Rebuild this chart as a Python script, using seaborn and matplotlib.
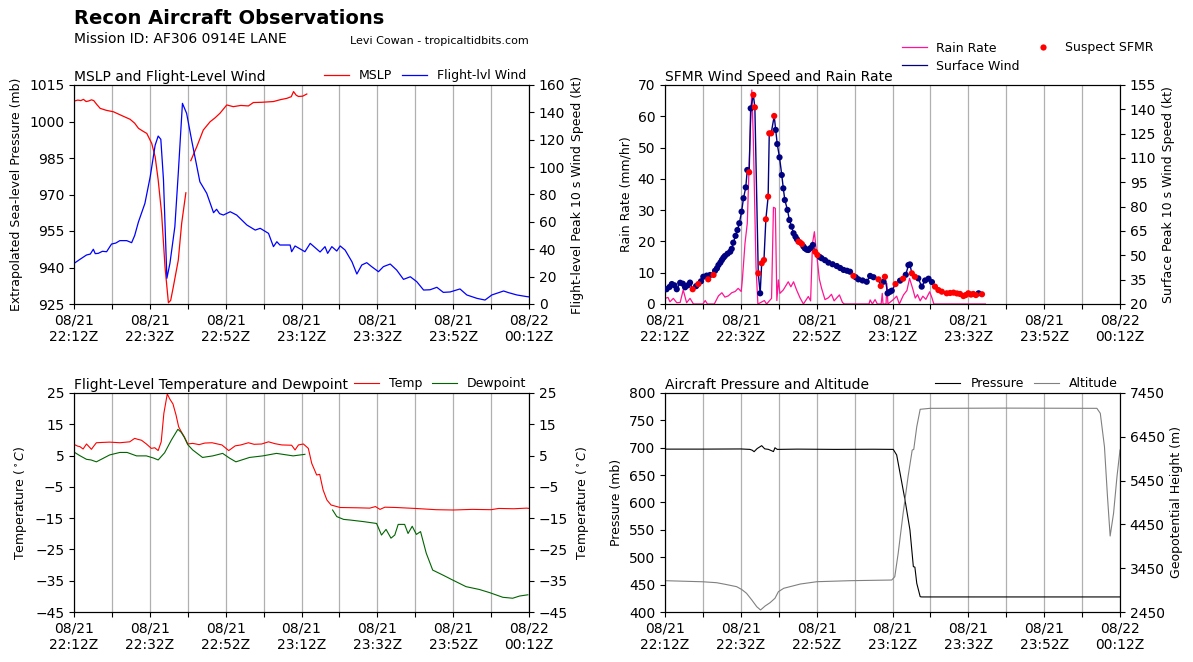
import matplotlib
matplotlib.use("Agg")
import matplotlib.pyplot as plt
import seaborn as sns
import numpy as np
from matplotlib.lines import Line2D

# ---------------- data (minutes after 22:12Z) ----------------
xtick_pos = [0, 10, 20, 30, 40, 50, 60, 70, 80, 90, 100, 110, 120]
xtick_labels = ["08/21\n22:12Z", "", "08/21\n22:32Z", "", "08/21\n22:52Z", "",
                "08/21\n23:12Z", "", "08/21\n23:32Z", "", "08/21\n23:52Z", "",
                "08/22\n00:12Z"]

mslp_t1 = [0.3, 1.0, 1.8, 2.5, 3.2, 3.8, 4.6, 5.2, 6.0, 6.9, 8.5, 10.4, 12.5, 14.8, 16.0,
           17.0, 18.2, 19.2, 20.5, 21.4, 22.2, 23.1, 24.0, 24.9, 25.5, 26.2, 27.5, 28.4, 29.5]
mslp_p1 = [1008.5, 1008.8, 1008.6, 1009.1, 1008.2, 1008.4, 1008.9, 1008.6, 1007.0, 1005.4,
           1004.6, 1004.0, 1002.5, 1000.9, 999.3, 997.2, 996.0, 995.1, 991.0, 985.5, 976.0,
           962.3, 940.3, 925.5, 926.5, 932.1, 943.0, 958.2, 970.7]
mslp_t2 = [30.8, 32.4, 34.1, 35.9, 37.2, 38.5, 40.3, 42.0, 44.0, 46.0, 47.3, 49.5, 52.6,
           54.5, 56.1, 57.3, 57.9, 58.6, 59.2, 60.3, 61.4]
mslp_p2 = [983.9, 989.7, 996.5, 999.9, 1001.5, 1003.4, 1006.8, 1006.1, 1006.6, 1006.4,
           1007.8, 1007.9, 1008.2, 1009.0, 1009.5, 1010.2, 1012.3, 1010.8, 1010.3, 1010.4, 1011.3]

fl_wind_t = [0.3, 1.5, 3.3, 4.3, 5.1, 5.6, 6.4, 7.5, 8.6, 9.9, 11.0, 12.1, 13.9, 15.2, 16.0,
             17.0, 18.7, 20.1, 21.4, 22.2, 22.9, 23.6, 24.5, 25.3, 26.6, 27.5, 28.6, 29.7,
             31.1, 33.2, 35.0, 36.8, 37.6, 38.4, 39.4, 41.2, 42.9, 45.6, 47.8, 49.1, 51.3,
             52.6, 53.5, 54.3, 57.0, 57.4, 58.3, 60.9, 62.3, 64.9, 66.2, 66.9, 68.0, 69.3,
             70.2, 71.5, 73.3, 74.6, 75.9, 77.2, 78.5, 80.3, 81.6, 83.4, 85.1, 86.9, 88.7,
             90.4, 92.2, 93.9, 95.7, 97.4, 99.2, 101.8, 103.6, 106.3, 108.4, 110.2, 113.3,
             114.6, 116.8, 119.4, 120.0]
fl_wind_kt = [30.2, 32.5, 35.8, 36.5, 40.0, 36.8, 37.0, 38.5, 38.2, 43.8, 44.5, 46.3, 46.3,
              44.8, 50.0, 60.0, 73.5, 93.0, 116.0, 122.7, 120.3, 90.6, 18.8, 29.7, 56.5,
              95.5, 146.6, 139.3, 118.6, 89.3, 80.9, 66.7, 69.2, 66.0, 65.0, 67.4, 65.0,
              57.7, 54.0, 55.3, 51.6, 41.9, 45.5, 43.1, 43.1, 38.2, 42.4, 38.2, 44.3, 38.0,
              41.9, 37.0, 41.9, 38.7, 42.4, 39.4, 30.9, 21.9, 28.5, 30.2, 27.3, 23.6, 27.3,
              29.2, 24.8, 18.0, 19.9, 16.3, 10.2, 10.4, 12.2, 8.5, 8.8, 11.0, 6.6, 4.1, 2.9,
              6.6, 9.5, 8.3, 6.6, 5.4, 5.2]

sfmr_t = [0.4, 1.2, 1.8, 2.5, 3.1, 4.0, 4.7, 5.3, 6.0, 6.6,
          7.3, 8.2, 8.8, 9.5, 10.1, 11.0, 11.4, 11.9, 12.8, 13.2,
          13.7, 14.1, 14.6, 15.0, 15.4, 15.8, 16.5, 17.2, 17.6, 18.0,
          18.6, 19.1, 19.6, 20.2, 20.7, 21.3, 21.7, 22.2, 22.6, 23.3,
          23.7, 24.6, 25.1, 25.5, 26.1, 26.6, 27.2, 27.5, 28.0, 28.8,
          29.2, 29.6, 30.2, 30.8, 31.2, 31.6, 32.3, 32.8, 33.4, 33.9,
          34.4, 34.8, 35.2, 35.6, 36.1, 36.5, 36.9, 37.4, 37.8, 38.4,
          39.0, 39.6, 40.2, 40.8, 41.3, 42.2, 43.1, 44.2, 45.3, 46.2,
          47.1, 48.0, 48.8, 49.7, 50.3, 51.0, 52.1, 53.2, 54.1, 55.0,
          56.3, 56.9, 57.6, 58.0, 58.7, 59.3, 59.8, 60.8, 62.0, 62.8,
          63.5, 64.2, 64.6, 65.1, 65.9, 66.8, 67.7, 68.6, 69.5, 70.4,
          71.2, 72.1, 73.0, 74.3, 75.2, 76.1, 77.0, 77.8, 78.7, 79.3,
          80.0, 80.7, 81.3, 82.0, 82.7, 83.6]
sfmr_kt = [29.1, 30.5, 32.3, 31.5, 29.1, 33.1, 32.5, 30.3, 31.5, 33.2,
           29.1, 31.0, 32.3, 34.0, 36.8, 37.5, 35.2, 37.9, 37.9, 40.5,
           42.0, 44.0, 45.5, 47.1, 48.5, 49.6, 51.0, 52.2, 54.0, 57.8,
           62.0, 65.6, 69.8, 76.9, 85.2, 91.9, 102.6, 101.2, 140.6, 148.9,
           141.2, 38.9, 26.6, 45.1, 47.1, 72.2, 86.2, 125.2, 125.2, 135.9,
           127.3, 118.6, 110.4, 99.5, 91.3, 84.1, 78.0, 71.8, 67.7, 63.6,
           61.5, 59.9, 58.4, 58.0, 57.0, 55.5, 54.3, 53.5, 53.3, 54.5,
           56.4, 52.2, 50.2, 49.0, 48.2, 47.0, 45.5, 44.5, 43.4, 42.2,
           41.0, 40.5, 39.9, 37.3, 36.5, 35.2, 34.5, 33.7, 37.3, 36.5,
           35.2, 31.1, 33.7, 36.8, 26.6, 27.5, 28.2, 32.3, 34.4, 35.6,
           38.0, 44.0, 44.4, 38.9, 36.8, 35.8, 30.7, 34.5, 35.6, 33.5,
           30.7, 28.6, 27.6, 26.6, 26.8, 27.0, 26.5, 26.2, 24.9, 25.5,
           26.6, 25.8, 26.2, 25.5, 26.6, 26.0]
sfmr_suspect = [0, 0, 0, 0, 0, 0, 0, 0, 0, 0,
                1, 0, 1, 0, 0, 0, 1, 0, 1, 0,
                0, 0, 0, 0, 0, 0, 0, 0, 0, 0,
                0, 0, 0, 0, 0, 0, 0, 1, 0, 1,
                1, 1, 0, 1, 1, 1, 1, 1, 1, 1,
                0, 0, 0, 0, 0, 0, 0, 0, 0, 0,
                0, 0, 1, 1, 1, 0, 0, 0, 0, 0,
                0, 1, 1, 0, 0, 0, 0, 0, 0, 0,
                0, 0, 0, 1, 0, 0, 0, 0, 0, 0,
                1, 1, 0, 1, 0, 0, 0, 1, 0, 1,
                0, 0, 0, 1, 1, 0, 0, 0, 0, 0,
                1, 1, 1, 1, 1, 1, 1, 1, 1, 1,
                1, 1, 1, 1, 0, 1]

rain_t = [0.0, 0.8, 1.3, 2.2, 3.1, 4.0, 4.8, 5.7, 6.6, 7.5, 10.0, 10.6, 11.2, 13.0, 14.1,
          15.0, 15.8, 16.7, 17.6, 18.5, 19.3, 20.1, 20.4, 21.1, 21.7, 22.2, 22.9, 23.3,
          24.0, 24.5, 26.2, 26.8, 28.1, 28.6, 29.1, 29.5, 29.9, 30.3, 31.2, 32.5, 33.2,
          33.9, 34.7, 35.6, 36.5, 37.8, 38.4, 38.9, 39.4, 39.8, 40.7, 41.3, 42.2, 43.1,
          43.9, 44.6, 46.0, 46.8, 47.3, 53.8, 54.1, 54.7, 55.4, 56.0, 57.0, 57.3, 57.5,
          58.3, 58.5, 58.8, 60.2, 61.1, 61.8, 62.9, 63.8, 64.5, 65.4, 66.0, 66.6, 67.3,
          68.0, 68.8, 69.8, 70.4, 70.9, 84.5]
rain_mm = [1.8, 2.1, 0.7, 1.8, 0.4, 0.5, 4.5, 0.4, 1.8, 0.0, 0.0, 1.1, 0.0, 0.0, 2.6,
           3.6, 2.2, 2.6, 3.6, 4.0, 5.0, 4.0, 7.7, 19.4, 25.8, 45.0, 68.4, 52.4,
           11.9, 0.0, 1.1, 0.0, 1.8, 30.9, 30.6, 1.1, 7.7, 3.4, 4.5, 7.1, 5.5,
           7.1, 4.5, 2.0, 0.0, 2.4, 1.0, 19.4, 23.1, 18.2, 8.0, 5.0, 1.4, 2.0,
           3.1, 1.0, 2.9, 0.5, 0.0, 0.0, 1.3, 0.0, 1.4, 0.0, 0.0, 3.4, 0.0,
           0.0, 6.6, 0.0, 1.4, 2.5, 0.0, 2.9, 4.3, 8.2, 4.6, 1.9, 3.0, 1.0,
           2.5, 1.5, 3.9, 2.0, 0.0, 0.0]

temp_t = [0.3, 1.0, 1.5, 2.4, 3.3, 4.0, 4.6, 5.2, 5.9, 7.5, 9.4, 12.1, 14.7, 16.0, 16.8,
          17.8, 19.1, 20.4, 21.3, 22.2, 23.0, 23.7, 24.6, 25.3, 26.1, 26.9, 27.6, 28.3,
          29.1, 30.0, 31.3, 33.0, 34.5, 36.4, 37.5, 39.0, 40.8, 41.5, 42.5, 44.0, 46.0,
          47.5, 49.5, 51.3, 53.0, 54.8, 57.4, 58.3, 59.2, 60.5, 61.8, 62.7, 64.0, 64.8,
          65.7, 66.7, 67.8, 70.2, 75.0, 78.0, 79.5, 80.7, 82.0, 85.0, 90.0, 95.5, 100.0,
          105.0, 110.0, 112.0, 116.0, 119.4, 120.0]
temp_c = [8.4, 8.0, 7.9, 7.1, 8.7, 7.8, 7.0, 8.0, 9.1, 9.2, 9.3, 9.1, 9.4, 10.5, 10.2,
          9.9, 8.7, 7.3, 7.5, 6.6, 9.4, 18.5, 24.7, 23.0, 21.5, 18.0, 14.2, 12.6,
          11.0, 8.7, 8.9, 8.5, 9.0, 9.1, 8.8, 8.4, 6.6, 7.2, 8.1, 8.4, 9.1,
          8.6, 8.7, 9.4, 8.8, 8.4, 8.3, 6.8, 8.4, 8.7, 7.3, 2.5, -1.2, -1.0,
          -6.0, -9.2, -10.8, -11.6, -11.7, -11.8, -11.3, -12.2, -11.5, -11.6, -11.9, -12.3, -12.4,
          -12.2, -12.3, -11.9, -12.0, -11.8, -11.9]

dew_t1 = [0.3, 1.5, 3.3, 4.5, 5.9, 7.5, 9.4, 12.1, 14.0, 16.5, 19.1, 21.0, 22.2, 23.9, 25.7,
          27.4, 28.3, 29.1, 30.0, 31.3, 33.9, 36.6, 39.2, 41.0, 42.7, 46.3, 49.8, 53.4,
          57.8, 60.9]
dew_c1 = [5.9, 5.0, 3.8, 3.6, 3.0, 4.0, 5.2, 6.0, 6.0, 4.9, 4.9, 4.2, 3.6, 5.9, 10.0,
          13.4, 12.4, 10.8, 8.5, 6.8, 4.4, 4.9, 5.7, 4.2, 3.0, 4.4, 4.9, 5.7, 4.9, 5.4]
dew_t2 = [68.2, 69.3, 71.1, 72.8, 76.3, 79.8, 81.1, 82.3, 83.6, 84.6, 85.5, 87.2, 88.1,
          89.2, 90.3, 91.4, 92.9, 94.6, 97.3, 99.9, 103.4, 106.9, 109.6, 113.1, 115.7,
          117.5, 119.7]
dew_c2 = [-12.4, -14.5, -15.4, -15.6, -16.1, -16.7, -20.4, -18.6, -21.4, -20.4, -17.0,
          -17.0, -19.9, -17.6, -20.2, -19.3, -26.2, -31.6, -33.2, -34.8, -36.9, -37.8,
          -38.8, -40.3, -40.6, -39.9, -39.5]

pres_t = [0.0, 10.0, 20.0, 22.4, 23.0, 23.5, 24.3, 25.5, 26.3, 27.3, 28.6, 29.0, 29.6,
          35.0, 45.0, 55.0, 60.2, 61.1, 62.0, 63.3, 64.6, 65.5, 65.9, 66.4, 67.3, 67.7,
          70.0, 120.0]
pres_mb = [697.5, 697.5, 697.8, 697.0, 695.5, 692.8, 698.5, 703.8, 698.0, 697.0, 693.0,
           700.0, 697.0, 697.5, 697.0, 697.3, 697.0, 686.8, 653.3, 604.6, 549.8, 482.8,
           482.0, 452.4, 428.0, 427.5, 427.5, 427.5]

alt_t = [0.0, 10.0, 13.6, 16.0, 18.9, 20.3, 21.5, 22.9, 24.2, 25.2, 26.4, 27.7, 29.0,
         29.9, 31.3, 33.5, 35.7, 40.1, 48.9, 59.8, 60.6, 61.5, 62.8, 64.1, 65.2, 65.6,
         66.4, 67.3, 69.9, 90.0, 113.9, 114.8, 115.9, 116.7, 117.4, 118.3, 119.2, 120.0]
alt_m = [3165, 3140, 3119, 3080, 3028, 2960, 2877, 2724, 2571, 2496, 2587, 2662, 2763,
         2913, 2991, 3040, 3089, 3142, 3165, 3180, 3256, 3790, 4703, 5539, 6149, 6160,
         6681, 7078, 7100, 7105, 7100, 6987, 6224, 5082, 4185, 4703, 5539, 6149]

assert len(fl_wind_t) == len(fl_wind_kt)
assert len(sfmr_t) == len(sfmr_kt) == len(sfmr_suspect)
assert len(rain_t) == len(rain_mm)
assert len(temp_t) == len(temp_c)
assert len(pres_t) == len(pres_mb) and len(alt_t) == len(alt_m)

# ---------------- figure ----------------
plt.rcParams['font.family'] = ['DejaVu Sans']
W, H = 1193, 662
fig = plt.figure(figsize=(W / 100, H / 100), dpi=100)


def box(l, t, r, b):
    return [l / W, 1 - b / H, (r - l) / W, (b - t) / H]


def time_axis(ax):
    ax.set_xlim(0, 120)
    ax.set_xticks(xtick_pos)
    ax.set_xticklabels(xtick_labels, fontsize=10)
    ax.grid(axis='x', color='#b0b0b0', linewidth=0.9)
    ax.set_xlabel("")


def clear_legend(*axs):
    for a in axs:
        lg = a.get_legend()
        if lg is not None:
            lg.remove()


LEGKW = dict(frameon=False, fontsize=9, borderaxespad=0, borderpad=0.2,
             handlelength=2.0, handletextpad=0.8, columnspacing=0.8)

# --- MSLP and flight-level wind ---
ax1 = fig.add_axes(box(74, 85, 529, 304))
ax1b = ax1.twinx()
sns.lineplot(x=mslp_t1, y=mslp_p1, ax=ax1, color='red', linewidth=0.9)
sns.lineplot(x=mslp_t2, y=mslp_p2, ax=ax1, color='red', linewidth=0.9)
sns.lineplot(x=fl_wind_t, y=fl_wind_kt, ax=ax1b, color='blue', linewidth=0.9)
time_axis(ax1)
ax1.set_ylim(925, 1015)
ax1.set_yticks(np.arange(925, 1016, 15))
ax1b.set_ylim(0, 160)
ax1b.set_yticks(np.arange(0, 161, 20))
ax1.set_ylabel("Extrapolated Sea-level Pressure (mb)", fontsize=9)
ax1b.set_ylabel("Flight-level Peak 10 s Wind Speed (kt)", fontsize=9)
ax1.set_title("MSLP and Flight-Level Wind", loc='left', fontsize=10, pad=3)
clear_legend(ax1, ax1b)
ax1b.legend([Line2D([], [], color='red', lw=0.9), Line2D([], [], color='blue', lw=0.9)],
            ["MSLP", "Flight-lvl Wind"], loc='lower right', bbox_to_anchor=(1.0, 1.0),
            ncol=2, **LEGKW)

# --- SFMR and rain rate ---
ax2 = fig.add_axes(box(665, 85, 1120, 304))
ax2b = ax2.twinx()
sns.lineplot(x=rain_t, y=rain_mm, ax=ax2, color='deeppink', linewidth=0.9)
sns.lineplot(x=sfmr_t, y=sfmr_kt, ax=ax2b, color='navy', linewidth=1.0, sort=False)
sfmr_t_arr = np.array(sfmr_t)
sfmr_kt_arr = np.array(sfmr_kt)
flag = np.array(sfmr_suspect) == 1
sns.scatterplot(x=sfmr_t_arr[~flag], y=sfmr_kt_arr[~flag], ax=ax2b, color='navy', s=20,
                edgecolor='none', zorder=3)
sns.scatterplot(x=sfmr_t_arr[flag], y=sfmr_kt_arr[flag], ax=ax2b, color='red', s=20,
                edgecolor='none', zorder=4)
time_axis(ax2)
ax2.set_ylim(0, 70)
ax2.set_yticks(np.arange(0, 71, 10))
ax2b.set_ylim(20, 155)
ax2b.set_yticks(np.arange(20, 156, 15))
ax2.set_ylabel("Rain Rate (mm/hr)", fontsize=9)
ax2b.set_ylabel("Surface Peak 10 s Wind Speed (kt)", fontsize=9)
ax2.set_title("SFMR Wind Speed and Rain Rate", loc='left', fontsize=10, pad=3)
clear_legend(ax2, ax2b)
fig.legend([Line2D([], [], color='deeppink', lw=0.9), Line2D([], [], color='navy', lw=0.9),
            Line2D([], [], color='red', marker='o', ls='none', markersize=4.5, mec='none')],
           ["Rain Rate", "Surface Wind", "Suspect SFMR"], loc='lower right',
           bbox_to_anchor=(1156 / W, 1 - 75 / H), bbox_transform=fig.transFigure,
           ncol=2, **dict(LEGKW, columnspacing=0.8, labelspacing=0.4))

# --- Temperature and dewpoint ---
ax3 = fig.add_axes(box(74, 393, 529, 612))
ax3b = ax3.twinx()
sns.lineplot(x=temp_t, y=temp_c, ax=ax3, color='red', linewidth=0.8)
sns.lineplot(x=dew_t1, y=dew_c1, ax=ax3, color='darkgreen', linewidth=0.8)
sns.lineplot(x=dew_t2, y=dew_c2, ax=ax3, color='darkgreen', linewidth=0.8)
time_axis(ax3)
ax3.set_ylim(-45, 25)
ax3.set_yticks(np.arange(-45, 26, 10))
ax3b.set_ylim(-45, 25)
ax3b.set_yticks(np.arange(-45, 26, 10))
ax3.set_ylabel("Temperature ($^\\circ C$)", fontsize=9)
ax3b.set_ylabel("Temperature ($^\\circ C$)", fontsize=9)
ax3.set_title("Flight-Level Temperature and Dewpoint", loc='left', fontsize=10, pad=3)
clear_legend(ax3, ax3b)
ax3b.legend([Line2D([], [], color='red', lw=0.8), Line2D([], [], color='darkgreen', lw=0.8)],
            ["Temp", "Dewpoint"], loc='lower right', bbox_to_anchor=(1.0, 1.0), ncol=2,
            **LEGKW)

# --- Aircraft pressure and altitude ---
ax4 = fig.add_axes(box(665, 393, 1120, 612))
ax4b = ax4.twinx()
sns.lineplot(x=pres_t, y=pres_mb, ax=ax4, color='black', linewidth=0.8)
sns.lineplot(x=alt_t, y=alt_m, ax=ax4b, color='gray', linewidth=0.8)
time_axis(ax4)
ax4.set_ylim(400, 800)
ax4.set_yticks(np.arange(400, 801, 50))
ax4b.set_ylim(2450, 7450)
ax4b.set_yticks(np.arange(2450, 7451, 1000))
ax4.set_ylabel("Pressure (mb)", fontsize=9)
ax4b.set_ylabel("Geopotential Height (m)", fontsize=9)
ax4.set_title("Aircraft Pressure and Altitude", loc='left', fontsize=10, pad=3)
clear_legend(ax4, ax4b)
ax4b.legend([Line2D([], [], color='black', lw=0.8), Line2D([], [], color='gray', lw=0.8)],
            ["Pressure", "Altitude"], loc='lower right', bbox_to_anchor=(1.0, 1.0), ncol=2,
            **LEGKW)

for a in (ax1b, ax2b, ax3b, ax4b):
    a.set_xlim(0, 120)

# --- header texts ---
fig.text(74 / W, 1 - 18 / H, "Recon Aircraft Observations", fontsize=14,
         fontweight='bold', ha='left', va='center')
fig.text(74 / W, 1 - 39 / H, "Mission ID: AF306 0914E LANE", fontsize=10,
         ha='left', va='center')
fig.text(350 / W, 1 - 41 / H, "Levi Cowan - tropicaltidbits.com", fontsize=8,
         ha='left', va='center')

fig.savefig("out.png", dpi=100)
